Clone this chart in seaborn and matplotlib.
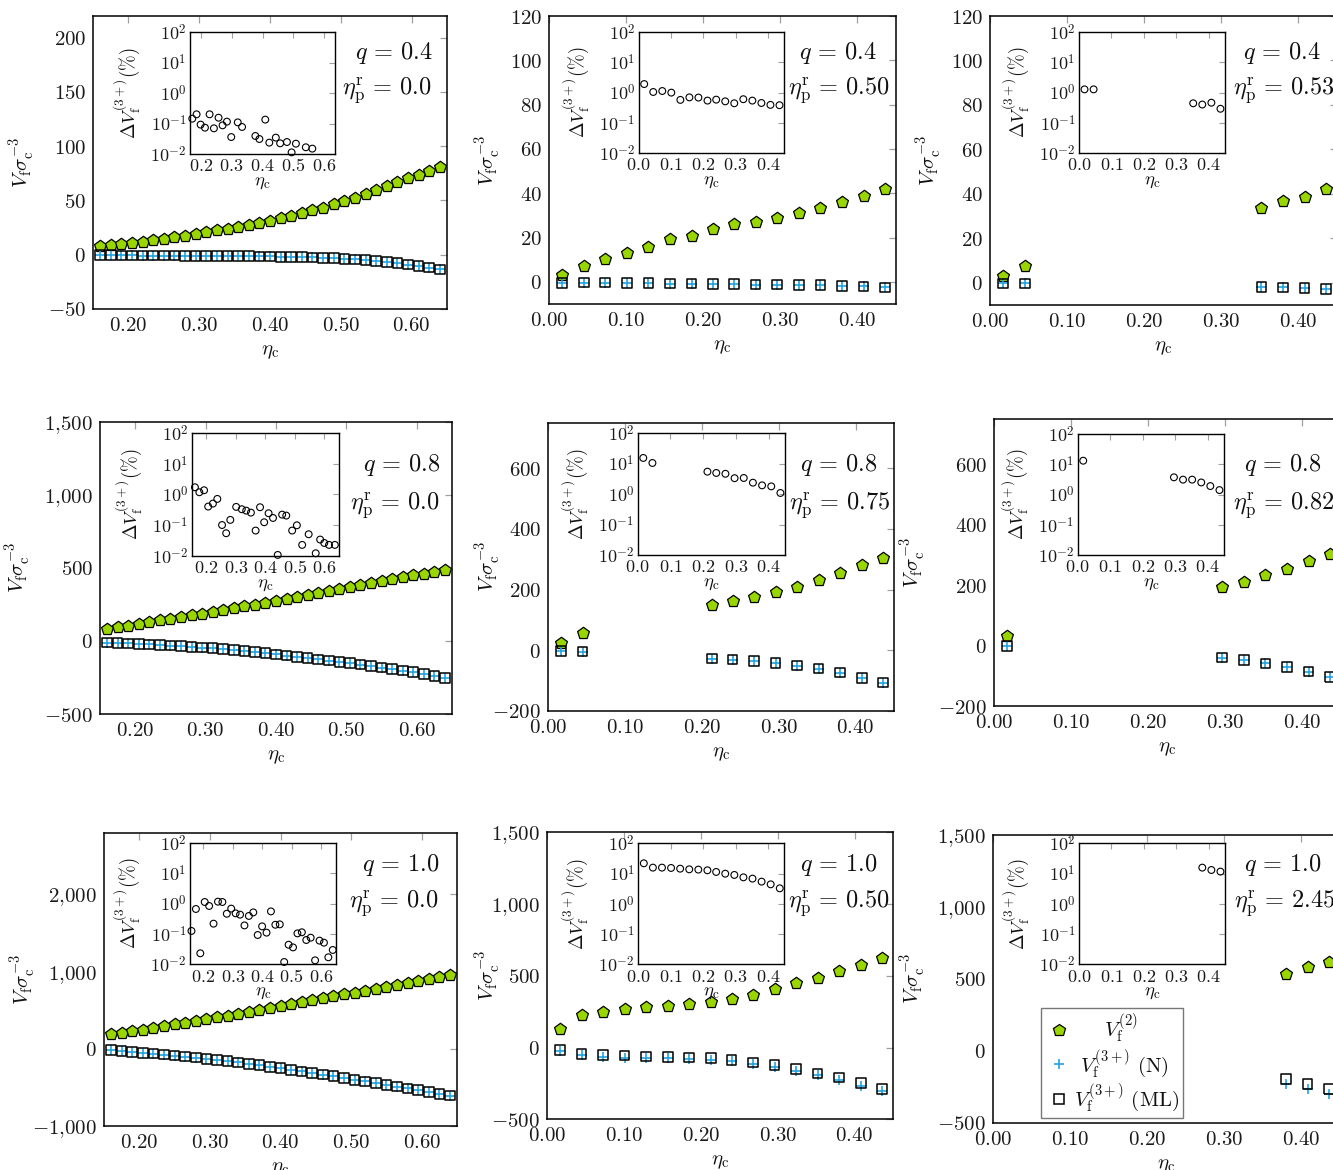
import numpy as np
import pandas as pd
import matplotlib
matplotlib.use('Agg')
import matplotlib.pyplot as plt
import seaborn as sns
from matplotlib.ticker import FixedLocator, FuncFormatter, LogLocator, NullFormatter
from matplotlib.lines import Line2D

# ---------------------------------------------------------------- data
X_WIDE = [0.160, 0.175, 0.190, 0.205, 0.220, 0.235, 0.250, 0.265, 0.280, 0.295, 0.310,
          0.325, 0.340, 0.355, 0.370, 0.385, 0.400, 0.415, 0.430, 0.445, 0.460, 0.475,
          0.490, 0.505, 0.520, 0.535, 0.550, 0.565, 0.580, 0.595, 0.610, 0.625, 0.640]
X_NARROW = [0.017, 0.045, 0.073, 0.101, 0.129, 0.157, 0.185, 0.213, 0.240, 0.268, 0.296,
            0.324, 0.352, 0.380, 0.408, 0.436]

# q = 0.4, eta_p^r = 0.0
x_00 = X_WIDE
v2_00 = [8.0, 8.6, 9.6, 10.8, 12.0, 13.3, 14.8, 16.0, 17.3, 18.8, 20.7, 22.5, 24.1, 25.9,
         27.5, 29.6, 31.5, 33.6, 36.1, 38.6, 41.0, 43.5, 46.3, 49.4, 52.5, 55.9, 59.3,
         63.0, 67.0, 70.4, 73.8, 77.5, 80.6]
v3ml_00 = [-0.5, -0.5, -0.6, -0.6, -0.7, -0.7, -0.8, -0.8, -0.9, -1.0, -1.0, -1.1, -1.2,
           -1.3, -1.4, -1.5, -1.6, -1.8, -2.0, -2.2, -2.5, -2.8, -3.2, -3.7, -4.3, -5.0,
           -5.8, -6.7, -7.8, -9.0, -10.3, -11.8, -13.5]
v3n_00 = [-0.5, -0.5, -0.6, -0.6, -0.7, -0.7, -0.8, -0.8, -0.9, -1.0, -1.0, -1.1, -1.2,
          -1.3, -1.4, -1.5, -1.6, -1.8, -2.0, -2.2, -2.5, -2.8, -3.2, -3.7, -4.3, -5.0,
          -5.8, -6.7, -7.8, -9.0, -10.3, -11.8, -13.5]
dx_00 = [0.173, 0.187, 0.200, 0.214, 0.229, 0.243, 0.258, 0.271, 0.285, 0.299, 0.320,
         0.334, 0.377, 0.390, 0.409, 0.422, 0.443, 0.457, 0.479, 0.494, 0.508, 0.540, 0.561]
dv_00 = [0.144, 0.20, 0.092, 0.073, 0.20, 0.0695, 0.155, 0.087, 0.115, 0.036, 0.109,
         0.077, 0.039, 0.031, 0.134, 0.0236, 0.0344, 0.0224, 0.0247, 0.0113, 0.0218,
         0.0166, 0.015]

# q = 0.4, eta_p^r = 0.50
x_01 = X_NARROW
v2_01 = [3.0, 7.2, 10.2, 13.2, 15.9, 19.2, 20.9, 23.7, 25.9, 27.1, 28.7, 31.0, 33.2,
         35.9, 38.9, 42.0]
v3ml_01 = [-0.45, -0.3, -0.3, -0.45, -0.6, -0.75, -0.75, -1.05, -1.05, -1.2, -1.2,
           -1.35, -1.5, -1.8, -2.1, -2.55]
v3n_01 = [-0.45, -0.3, -0.3, -0.45, -0.6, -0.75, -0.75, -1.05, -1.05, -1.2, -1.2,
          -1.35, -1.5, -1.8, -2.1, -2.55]
dx_01 = X_NARROW
dv_01 = [1.9, 1.04, 1.12, 0.99, 0.57, 0.69, 0.68, 0.54, 0.58, 0.51, 0.44, 0.60, 0.54,
         0.45, 0.39, 0.38]

# q = 0.4, eta_p^r = 0.53
x_02 = [0.017, 0.045, 0.352, 0.380, 0.408, 0.436]
v2_02 = [3.0, 7.5, 33.7, 37.0, 38.8, 42.0]
v3ml_02 = [-0.3, -0.3, -1.8, -2.1, -2.4, -2.7]
v3n_02 = [-0.3, -0.3, -1.8, -2.1, -2.4, -2.7]
dx_02 = x_02
dv_02 = [1.27, 1.27, 0.44, 0.40, 0.46, 0.29]

# q = 0.8, eta_p^r = 0.0
x_10 = X_WIDE
v2_10 = [82, 93, 104, 116, 128, 140, 152, 163, 175, 186, 198, 210, 222, 236, 249, 262,
         276, 290, 303, 316, 329, 342, 357, 371, 386, 398, 411, 424, 437, 449, 461, 473, 486]
v3ml_10 = [-12, -14, -17, -20, -24, -28, -32, -36, -40, -45, -50, -56, -62, -69, -76, -84,
           -92, -100, -108, -117, -126, -135, -144, -153, -162, -172, -182, -192, -203,
           -214, -226, -240, -254]
v3n_10 = [-12, -14, -17, -20, -24, -28, -32, -36, -40, -45, -50, -56, -62, -69, -76, -84,
          -92, -100, -108, -117, -126, -135, -144, -153, -162, -172, -182, -192, -203,
          -214, -226, -240, -254]
dx_10 = [0.161, 0.176, 0.192, 0.206, 0.222, 0.237, 0.253, 0.267, 0.281, 0.301, 0.320,
         0.335, 0.351, 0.367, 0.382, 0.396, 0.411, 0.426, 0.442, 0.457, 0.471, 0.491,
         0.507, 0.525, 0.547, 0.571, 0.586, 0.600, 0.616, 0.636]
dv_10 = [1.70, 1.17, 1.36, 0.40, 0.50, 0.71, 0.10, 0.054, 0.147, 0.39, 0.327, 0.295,
         0.254, 0.066, 0.38, 0.123, 0.242, 0.17, 0.0106, 0.218, 0.203, 0.066, 0.098,
         0.0225, 0.050, 0.012, 0.0336, 0.026, 0.0225, 0.0225]

# q = 0.8, eta_p^r = 0.75
x_11 = [0.017, 0.045, 0.213, 0.240, 0.268, 0.296, 0.324, 0.352, 0.380, 0.408, 0.436]
v2_11 = [25, 57, 149, 162, 177, 191, 210, 232, 255, 282, 305]
v3ml_11 = [-3, -5, -28, -31, -36, -42, -51, -61, -74, -91, -107]
v3n_11 = [-3, -5, -28, -31, -36, -42, -51, -61, -74, -91, -107]
dx_11 = x_11
dv_11 = [15.2, 10.4, 5.4, 4.9, 4.6, 3.3, 3.35, 2.35, 1.92, 1.78, 1.08]

# q = 0.8, eta_p^r = 0.82
x_12 = [0.017, 0.296, 0.324, 0.352, 0.380, 0.408, 0.436]
v2_12 = [32, 193, 212, 233, 255, 279, 304]
v3ml_12 = [-1, -40, -48, -59, -71, -86, -103]
v3n_12 = [-1, -40, -48, -59, -71, -86, -103]
dx_12 = x_12
dv_12 = [13.1, 3.7, 3.1, 3.1, 2.5, 1.9, 1.4]

# q = 1.0, eta_p^r = 0.0
x_20 = X_WIDE
v2_20 = [186, 207, 229, 250, 272, 294, 316, 339, 361, 384, 406, 430, 455, 480, 505, 530,
         555, 580, 605, 630, 655, 680, 704, 729, 754, 779, 804, 829, 854, 879, 905, 930, 957]
v3ml_20 = [-15, -28, -41, -52, -63, -75, -88, -101, -114, -130, -144, -160, -177, -194,
           -212, -232, -252, -272, -293, -314, -335, -356, -378, -400, -422, -444, -466,
           -490, -512, -535, -559, -582, -606]
v3n_20 = [-15, -28, -41, -52, -63, -75, -88, -101, -114, -130, -144, -160, -177, -194,
          -212, -232, -252, -272, -293, -314, -335, -356, -378, -400, -422, -444, -466,
          -490, -512, -535, -559, -582, -606]
dx_20 = X_WIDE
dv_20 = [0.125, 0.66, 0.023, 1.12, 0.83, 0.217, 1.15, 1.12, 0.46, 0.68, 0.475, 0.43,
         0.19, 0.39, 0.51, 0.092, 0.177, 0.11, 0.55, 0.20, 0.206, 0.0119, 0.044, 0.036,
         0.104, 0.113, 0.063, 0.075, 0.0135, 0.06, 0.0515, 0.017, 0.0296]

# q = 1.0, eta_p^r = 0.50
x_21 = X_NARROW
v2_21 = [127, 224, 249, 267, 283, 293, 306, 318, 339, 369, 406, 447, 488, 532, 578, 624]
v3ml_21 = [-16, -44, -51, -55, -62, -65, -69, -74, -85, -104, -122, -150, -180, -210,
           -249, -288]
v3n_21 = [-23, -53, -63, -70, -74, -76, -80, -85, -96, -115, -138, -162, -192, -226,
          -266, -306]
dx_21 = X_NARROW
dv_21 = [21.8, 15.7, 15.7, 15.3, 14.5, 13.8, 13.5, 12.8, 11.3, 9.9, 9.0, 7.5, 6.8, 5.4,
         4.4, 3.25]

# q = 1.0, eta_p^r = 2.45
x_22 = [0.380, 0.408, 0.436]
v2_22 = [535, 579, 620]
v3ml_22 = [-197, -231, -266]
v3n_22 = [-229, -266, -301]
dx_22 = x_22
dv_22 = [15.7, 13.1, 11.6]

Q_LABELS = ['0.4', '0.4', '0.4', '0.8', '0.8', '0.8', '1.0', '1.0', '1.0']
ETA_LABELS = ['0.0', '0.50', '0.53', '0.0', '0.75', '0.82', '0.0', '0.50', '2.45']

LEGEND_LABELS = [r'$\ \ \ \ \ V_{\rm f}^{(2)}$', r'$\ V_{\rm f}^{(3+)}\ {\rm (N)}$',
                 r'$V_{\rm f}^{(3+)}\ {\rm (ML)}$']

# ---------------------------------------------------------------- style / layout
W, H = 1333, 1170
GREEN = '#99d600'
BLUE = '#22a3e0'
TICKC = '#a0a0a0'

sns.set_theme(style='white')
plt.rcParams.update({
    'mathtext.fontset': 'cm',
    'font.family': ['DejaVu Serif'],
    'axes.unicode_minus': True,
    'axes.edgecolor': 'black',
    'axes.linewidth': 1.0,
    'text.color': '#111111',
    'axes.labelcolor': '#111111',
})

fig = plt.figure(figsize=(W / 100, H / 100), dpi=100)
fig.patch.set_facecolor('white')


def px_axes(l, t, r, b):
    return fig.add_axes([l / W, 1 - b / H, (r - l) / W, (b - t) / H])


def fmt_y(v, pos):
    s = f'{v:,.0f}'.replace(',', '{,}')
    return f'${s}$'


def fmt_x2(v, pos):
    return f'${v:.2f}$'


def fmt_x1(v, pos):
    return f'${v:.1f}$'


def fmt_log(v, pos):
    return f'$10^{{{int(round(np.log10(v)))}}}$'


panels = [
    dict(x=x_00, v2=v2_00, n=v3n_00, ml=v3ml_00, dx=dx_00, dv=dv_00,
         box=(93, 16, 447, 309), inbox=(190, 32, 335, 154), wide=True,
         xlim=(0.15, 0.65), ylim=(-50, 220), yt=[-50, 0, 50, 100, 150, 200],
         inxlim=(0.1657, 0.6343), ylab=-56, ann=(433, 59, 432, 94)),
    dict(x=x_01, v2=v2_01, n=v3n_01, ml=v3ml_01, dx=dx_01, dv=dv_01,
         box=(549, 16, 896, 304), inbox=(638.7, 32, 784, 153), wide=False,
         xlim=(0.0, 0.45), ylim=(-10, 120), yt=[0, 20, 40, 60, 80, 100, 120],
         inxlim=(0.0, 0.45), ylab=-46, ann=(877, 59, 890, 94)),
    dict(x=x_02, v2=v2_02, n=v3n_02, ml=v3ml_02, dx=dx_02, dv=dv_02,
         box=(990, 16, 1337, 305), inbox=(1079, 32, 1225, 153), wide=False,
         xlim=(0.0, 0.45), ylim=(-10, 120), yt=[0, 20, 40, 60, 80, 100, 120],
         inxlim=(0.0, 0.45), ylab=-46, ann=(1321, 59, 1335, 94)),
    dict(x=x_10, v2=v2_10, n=v3n_10, ml=v3ml_10, dx=dx_10, dv=dv_10,
         box=(100, 421.7, 452, 714), inbox=(191.7, 433, 339, 555.7), wide=True,
         xlim=(0.15, 0.65), ylim=(-500, 1500), yt=[-500, 0, 500, 1000, 1500],
         inxlim=(0.15, 0.65), ylab=-67, ann=(440, 470.7, 440, 509)),
    dict(x=x_11, v2=v2_11, n=v3n_11, ml=v3ml_11, dx=dx_11, dv=dv_11,
         box=(548, 423, 894, 710.7), inbox=(637.7, 433, 785, 555), wide=False,
         xlim=(0.0, 0.45), ylim=(-200, 750), yt=[-200, 0, 200, 400, 600],
         inxlim=(0.0, 0.45), ylab=-45, ann=(877, 470.7, 890, 509)),
    dict(x=x_12, v2=v2_12, n=v3n_12, ml=v3ml_12, dx=dx_12, dv=dv_12,
         box=(994, 419, 1341, 706), inbox=(1077.7, 434, 1224, 555), wide=False,
         xlim=(0.0, 0.45), ylim=(-200, 750), yt=[-200, 0, 200, 400, 600],
         inxlim=(0.0, 0.45), ylab=-66, ann=(1321, 470.7, 1335, 509)),
    dict(x=x_20, v2=v2_20, n=v3n_20, ml=v3ml_20, dx=dx_20, dv=dv_20,
         box=(104, 832.7, 457, 1126), inbox=(190, 842.7, 335.7, 964.3), wide=True,
         xlim=(0.15, 0.65), ylim=(-1000, 2800), yt=[-1000, 0, 1000, 2000],
         inxlim=(0.155, 0.65), ylab=-66, ann=(439, 870.7, 439, 907.3)),
    dict(x=x_21, v2=v2_21, n=v3n_21, ml=v3ml_21, dx=dx_21, dv=dv_21,
         box=(547, 832.3, 893, 1119.3), inbox=(638.3, 843.3, 784.3, 964.3), wide=False,
         xlim=(0.0, 0.45), ylim=(-500, 1500), yt=[-500, 0, 500, 1000, 1500],
         inxlim=(0.0, 0.45), ylab=-44, ann=(877, 870.7, 890, 907.3)),
    dict(x=x_22, v2=v2_22, n=v3n_22, ml=v3ml_22, dx=dx_22, dv=dv_22,
         box=(993, 835, 1340, 1122.7), inbox=(1079, 843.3, 1225, 964.3), wide=False,
         xlim=(0.0, 0.45), ylim=(-500, 1500), yt=[-500, 0, 500, 1000, 1500],
         inxlim=(0.0, 0.45), ylab=-65, ann=(1321, 870.7, 1335, 907.3)),
]

for i, p in enumerate(panels):
    l, t, r, b = p['box']
    ax = px_axes(l, t, r, b)
    wpx, hpx = r - l, b - t
    d2 = pd.DataFrame({'eta': p['x'], 'V': p['v2']})
    dn = pd.DataFrame({'eta': p['x'], 'V': p['n']})
    dml = pd.DataFrame({'eta': p['x'], 'V': p['ml']})
    sns.scatterplot(data=d2, x='eta', y='V', marker='p', s=80, color=GREEN,
                    edgecolor='black', linewidth=0.9, ax=ax, legend=False, zorder=3,
                    clip_on=False)
    sns.scatterplot(data=dn, x='eta', y='V', marker='+', s=44, color=BLUE,
                    linewidth=1.2, ax=ax, legend=False, zorder=3, clip_on=False)
    sns.scatterplot(data=dml, x='eta', y='V', marker='s', s=48, color='black',
                    facecolors='none', edgecolor='black', linewidth=1.1, ax=ax,
                    legend=False, zorder=4, clip_on=False)
    ax.set_xlim(*p['xlim'])
    ax.set_ylim(*p['ylim'])
    xt = [0.2, 0.3, 0.4, 0.5, 0.6] if p['wide'] else [0.0, 0.1, 0.2, 0.3, 0.4]
    ax.xaxis.set_major_locator(FixedLocator(xt))
    ax.xaxis.set_major_formatter(FuncFormatter(fmt_x2))
    ax.yaxis.set_major_locator(FixedLocator(p['yt']))
    ax.yaxis.set_major_formatter(FuncFormatter(fmt_y))
    ax.tick_params(which='both', direction='in', top=True, right=True, color=TICKC,
                   length=5, width=0.9, labelsize=15, pad=5, labelcolor='#1a1a1a')
    ax.set_xlabel(r'$\eta_{\rm c}$', fontsize=15)
    ax.set_ylabel(r'$V_{\rm f}\sigma_{\rm c}^{-3}$', fontsize=15)
    ax.xaxis.set_label_coords(0.5, -33 / hpx)
    ax.yaxis.set_label_coords(p['ylab'] / wpx, 0.5)
    for s in ax.spines.values():
        s.set_color('black')
        s.set_linewidth(1.1)

    # annotations
    qx, qy, ex, ey = p['ann']
    fig.text(qx / W, 1 - qy / H, r'$q\,=\,%s$' % Q_LABELS[i], fontsize=17.5,
             ha='right', va='baseline')
    fig.text(ex / W, 1 - ey / H, r'$\eta_{\rm p}^{\rm r}\,=\,%s$' % ETA_LABELS[i],
             fontsize=17.5, ha='right', va='baseline')

    # inset
    il, it, ir, ib = p['inbox']
    ai = px_axes(il, it, ir, ib)
    iw, ih = ir - il, ib - it
    di = pd.DataFrame({'eta': p['dx'], 'dV': p['dv']})
    sns.scatterplot(data=di, x='eta', y='dV', marker='o', s=24, color='black',
                    facecolors='none', edgecolor='black', linewidth=0.8, ax=ai,
                    legend=False, clip_on=False, zorder=3)
    ai.set_yscale('log')
    ai.set_ylim(1e-2, 1e2)
    ai.set_xlim(*p['inxlim'])
    ai.yaxis.set_major_locator(FixedLocator([1e-2, 1e-1, 1e0, 1e1, 1e2]))
    ai.yaxis.set_major_formatter(FuncFormatter(fmt_log))
    ai.yaxis.set_minor_locator(LogLocator(base=10, subs=np.arange(2, 10)))
    ai.yaxis.set_minor_formatter(NullFormatter())
    ai.xaxis.set_major_locator(FixedLocator(xt))
    ai.xaxis.set_major_formatter(FuncFormatter(fmt_x1))
    ai.tick_params(which='major', direction='in', top=True, right=True, color=TICKC,
                   length=4, width=0.8, labelsize=13, pad=2.5, labelcolor='#1a1a1a')
    ai.tick_params(which='minor', direction='in', top=True, right=True, color=TICKC,
                   length=2, width=0.6)
    ai.set_xlabel(r'$\eta_{\rm c}$', fontsize=13.5)
    ai.set_ylabel(r'$\Delta V_{\rm f}^{(3+)}(\%)$', fontsize=13.5)
    ai.xaxis.set_label_coords(0.5, -19 / ih)
    ai.yaxis.set_label_coords(-48 / iw, 0.5)
    ai.set_facecolor('white')
    for s in ai.spines.values():
        s.set_color('black')
        s.set_linewidth(1.0)

    if i == 8:
        handles = [
            Line2D([], [], linestyle='none', marker='p', markersize=9,
                   markerfacecolor=GREEN, markeredgecolor='black', markeredgewidth=0.9),
            Line2D([], [], linestyle='none', marker='+', markersize=7.5,
                   color=BLUE, markeredgewidth=1.2),
            Line2D([], [], linestyle='none', marker='s', markersize=7,
                   markerfacecolor='none', markeredgecolor='black', markeredgewidth=1.1),
        ]
        leg = ax.legend(handles, LEGEND_LABELS, loc='upper left',
                        bbox_to_anchor=(1040.7 / W, 1 - 1007.7 / H),
                        bbox_transform=fig.transFigure, fontsize=15, frameon=True,
                        fancybox=False, edgecolor='#777777', framealpha=1,
                        borderpad=0.2, handletextpad=0.0, labelspacing=0.08,
                        handlelength=1.4, borderaxespad=0)
        leg.get_frame().set_linewidth(1.0)
        leg.set_zorder(10)

fig.savefig('out.png', dpi=100, facecolor='white')
